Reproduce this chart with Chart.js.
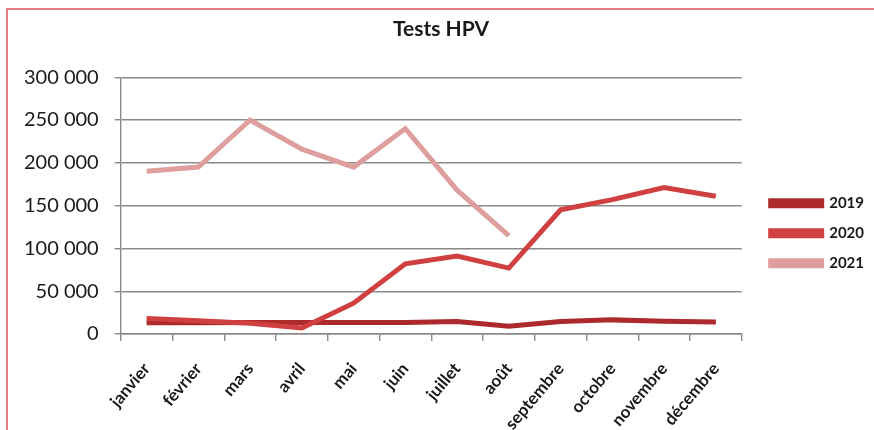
<!DOCTYPE html>
<html>
<head>
<meta charset="utf-8">
<script src="https://cdn.jsdelivr.net/npm/chart.js@4"></script>
<style>
  html, body { margin: 0; padding: 0; background: #fff; }
  #cadre {
    position: absolute; left: 6px; top: 8px;
    width: 868px; height: 422px;
    border-left: 2px solid #ea7c86; border-top: 2px solid #ea7c86;
  }
  #testsHPV { display: block; }
</style>
</head>
<body>
<div id="cadre"><canvas id="testsHPV" width="866" height="420"></canvas></div>
<script>
const mois = ['janvier', 'février', 'mars', 'avril', 'mai', 'juin', 'juillet', 'août', 'septembre', 'octobre', 'novembre', 'décembre'];
const annees = ['2019', '2020', '2021'];
const tests2019 = [13000, 13000, 13500, 13500, 13500, 13500, 14500, 9000, 14500, 16500, 15000, 14000];
const tests2020 = [18000, 15500, 12500, 7000, 36000, 82000, 91000, 77000, 145000, 157000, 171000, 161000];
const tests2021 = [190000, 195000, 250000, 216000, 195000, 240000, 168000, 115000, null, null, null, null];
const couleurs = ['rgb(172, 42, 44)', 'rgb(208, 64, 64)', 'rgb(222, 158, 158)'];

const gris = '#8a8a8a';
const police = 'Lato';

const ctx = document.getElementById('testsHPV');
const graphe = new Chart(ctx, {
    type: 'line',
    data: {
        labels: mois,
        datasets: [
            { label: annees[0], data: tests2019, borderColor: couleurs[0], backgroundColor: couleurs[0], order: 3 },
            { label: annees[1], data: tests2020, borderColor: couleurs[1], backgroundColor: couleurs[1], order: 2 },
            { label: annees[2], data: tests2021, borderColor: couleurs[2], backgroundColor: couleurs[2], order: 1 }
        ]
    },
    options: {
        responsive: false,
        animation: false,
        elements: {
            line: { borderWidth: 5, tension: 0, borderCapStyle: 'butt', borderJoinStyle: 'miter' },
            point: { radius: 0, hoverRadius: 0 }
        },
        layout: { padding: { left: 0, right: 0, top: 0, bottom: 0 } },
        scales: {
            x: {
                offset: true,
                grid: { display: true, drawOnChartArea: false, drawTicks: true, tickLength: 7, color: gris, lineWidth: 1.4, offset: true },
                border: { color: gris, width: 1.4 },
                ticks: {
                    minRotation: 50, maxRotation: 50, padding: 18,
                    color: '#1a1a1a',
                    font: { family: police, size: 17, weight: 'bold' }
                },
                afterFit: s => { s.height = 96; }
            },
            y: {
                min: 0, max: 300000,
                grid: { color: gris, lineWidth: 1.4, tickLength: 6 },
                border: { color: gris, width: 1.4 },
                ticks: {
                    stepSize: 50000, padding: 16,
                    color: '#1a1a1a',
                    font: { family: police, size: 20 },
                    callback: v => String(v).replace(/\B(?=(\d{3})+(?!\d))/g, ' ')
                }
            },
            espace: {
                position: 'right',
                display: true,
                grid: { display: false, drawTicks: false },
                border: { display: false },
                ticks: { display: false },
                afterFit: s => { s.width = 14; }
            }
        },
        plugins: {
            title: {
                display: true,
                text: 'Tests HPV',
                color: '#1a1a1a',
                font: { family: police, size: 21, weight: 'bold' },
                padding: { top: 7, bottom: 35 }
            },
            legend: {
                position: 'right',
                title: { display: true, text: '', padding: { top: 6, bottom: 6 } },
                labels: {
                    boxWidth: 51, boxHeight: 5, padding: 15,
                    color: '#1a1a1a',
                    font: { family: police, size: 15, weight: 'bold' },
                    sort: (a, b) => a.datasetIndex - b.datasetIndex
                }
            },
            tooltip: { enabled: false }
        }
    }
});
</script>
</body>
</html>
